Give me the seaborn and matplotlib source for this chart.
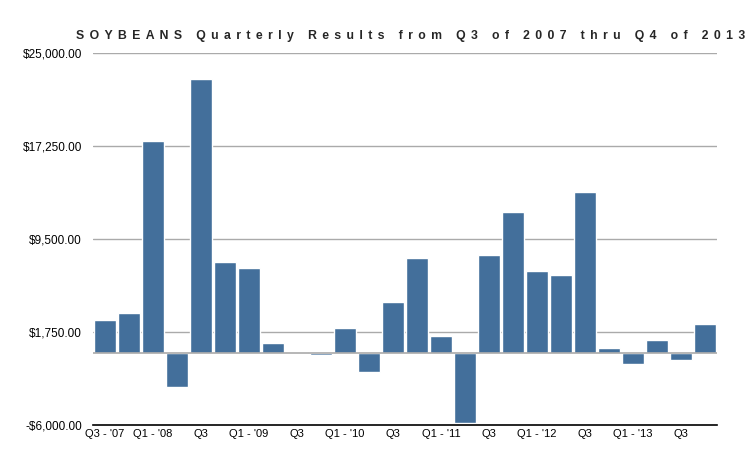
import matplotlib
matplotlib.use("Agg")
import matplotlib.pyplot as plt
import matplotlib.ticker as mticker
import pandas as pd
import seaborn as sns

# quarters Q3 2007 .. Q4 2013
quarters = [
    "Q3-07", "Q4-07",
    "Q1-08", "Q2-08", "Q3-08", "Q4-08",
    "Q1-09", "Q2-09", "Q3-09", "Q4-09",
    "Q1-10", "Q2-10", "Q3-10", "Q4-10",
    "Q1-11", "Q2-11", "Q3-11", "Q4-11",
    "Q1-12", "Q2-12", "Q3-12", "Q4-12",
    "Q1-13", "Q2-13", "Q3-13", "Q4-13",
]
results = [
    2780, 3360,
    17690, -2810, 22860, 7610,
    7110, 860, 110, -190,
    2110, -1560, 4280, 7940,
    1440, -5860, 8190, 11780,
    6860, 6530, 13440, 440,
    -940, 1110, -610, 2440,
]
tick_labels = [
    "Q3 - '07", "", "Q1 - '08", "", "Q3", "", "Q1 - '09", "", "Q3", "",
    "Q1 - '10", "", "Q3", "", "Q1 - '11", "", "Q3", "", "Q1 - '12", "",
    "Q3", "", "Q1 - '13", "", "Q3", "",
]
y_ticks = [-6000, 1750, 9500, 17250, 25000]

df = pd.DataFrame({"quarter": quarters, "result": results})

sns.set_style("white")
plt.rcParams["font.family"] = ["Liberation Sans", "DejaVu Sans"]

fig = plt.figure(figsize=(7.49, 4.55), dpi=100)
ax = fig.add_axes([93 / 749, 30 / 455, 624 / 749, 372 / 455])

for t in y_ticks[1:]:
    ax.axhline(t, color="#aaaaaa", lw=1, zorder=0)
ax.axhline(0, color="#aaaaaa", lw=1.2, zorder=3)

sns.barplot(data=df, x="quarter", y="result", color="#436f9b",
            saturation=1, width=0.88, ax=ax, zorder=2)

ax.set_ylim(-6000, 25000)
ax.set_xlim(-0.5, len(quarters) - 0.5)
ax.set_yticks(y_ticks)
ax.yaxis.set_major_formatter(mticker.FuncFormatter(
    lambda v, p: ("-$" if v < 0 else "$") + f"{abs(v):,.2f}"))
ax.set_xticks(range(len(quarters)))
ax.set_xticklabels(tick_labels)
ax.tick_params(axis="both", length=0, labelsize=8, colors="black")
ax.tick_params(axis="y", pad=8, labelsize=8.5)
ax.tick_params(axis="x", pad=3)
ax.set_xlabel("")
ax.set_ylabel("")
for s in ["left", "right", "top"]:
    ax.spines[s].set_visible(False)
ax.spines["bottom"].set_color("black")
ax.spines["bottom"].set_linewidth(1.2)

title = "SOYBEANS Quarterly Results from Q3 of 2007 thru Q4 of 2013"
spaced = " \u2006".join(title)
fig.text(0.995, 1 - 38.5 / 455, spaced, ha="right", va="baseline",
         fontsize=8.8, fontweight="bold")

fig.savefig("out.png", dpi=100)
